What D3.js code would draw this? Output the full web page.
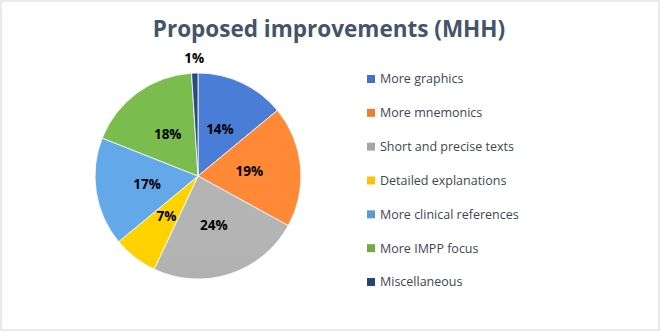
<!DOCTYPE html>
<html><head><meta charset="utf-8">
<script src="https://cdn.jsdelivr.net/npm/d3@7"></script>
<style>body{margin:0;background:#fff;font-family:"Open Sans",sans-serif;}</style>
</head><body>
<svg id="chart" width="661" height="332"></svg>
<script>
const categories = ["More graphics","More mnemonics","Short and precise texts","Detailed explanations","More clinical references","More IMPP focus","Miscellaneous"];
const values = [14,19,24,7,17,18,1];
const labels = ["14%","19%","24%","7%","17%","18%","1%"];
const colors = ["#4472C4","#ED7D31","#A5A5A5","#FFC000","#5B9BD5","#70AD47","#264478"];

const svg = d3.select("#chart");
svg.append("rect").attr("x",1).attr("y",1).attr("width",658).attr("height",329)
  .attr("fill","#fff").attr("stroke","#dfe4ea").attr("stroke-width",1.5);

svg.append("text").attr("x",329).attr("y",37).attr("text-anchor","middle")
  .attr("font-size",22.5).attr("font-weight","bold").attr("fill","#44546A")
  .text("Proposed improvements (MHH)");

const cx=198, cy=176, r=103;
const defs = svg.append("defs");
colors.forEach((c,i)=>{
  const g = defs.append("linearGradient").attr("id","g"+i)
    .attr("gradientUnits","userSpaceOnUse")
    .attr("x1",cx).attr("y1",cy-r).attr("x2",cx).attr("y2",cy+r);
  g.append("stop").attr("offset","0%").attr("stop-color",d3.color(c).brighter(0.25));
  g.append("stop").attr("offset","100%").attr("stop-color",d3.color(c).darker(0.2));
});

const pie = d3.pie().sort(null).value(d=>d);
const arcs = pie(values);
const arc = d3.arc().innerRadius(0).outerRadius(r);
const g = svg.append("g").attr("transform",`translate(${cx},${cy})`);
g.selectAll("path").data(arcs).join("path")
  .attr("d",arc).attr("fill",(d,i)=>`url(#g${i})`)
  .attr("stroke","#fff").attr("stroke-width",0.8);

const labelArc = d3.arc().innerRadius(r*0.5).outerRadius(r*0.5);
const outArc = d3.arc().innerRadius(r*1.14).outerRadius(r*1.14);
g.selectAll("text.lbl").data(arcs).join("text").attr("class","lbl")
  .attr("transform",(d,i)=>`translate(${(i===6?outArc:labelArc).centroid(d)})`)
  .attr("text-anchor","middle").attr("dy","0.35em")
  .attr("font-size",13.5).attr("font-weight","bold").attr("fill","#000")
  .text((d,i)=>labels[i]);

const y = d3.scalePoint().domain(categories).range([79,282]);
const leg = svg.append("g").selectAll("g").data(categories).join("g")
  .attr("transform",d=>`translate(367,${y(d)})`);
leg.append("rect").attr("x",0).attr("y",-4).attr("width",8).attr("height",8)
  .attr("fill",(d,i)=>colors[i]);
leg.append("text").attr("x",13).attr("dy","0.35em").attr("font-size",12.5)
  .attr("fill","#404654").text(d=>d);
</script>
</body></html>
